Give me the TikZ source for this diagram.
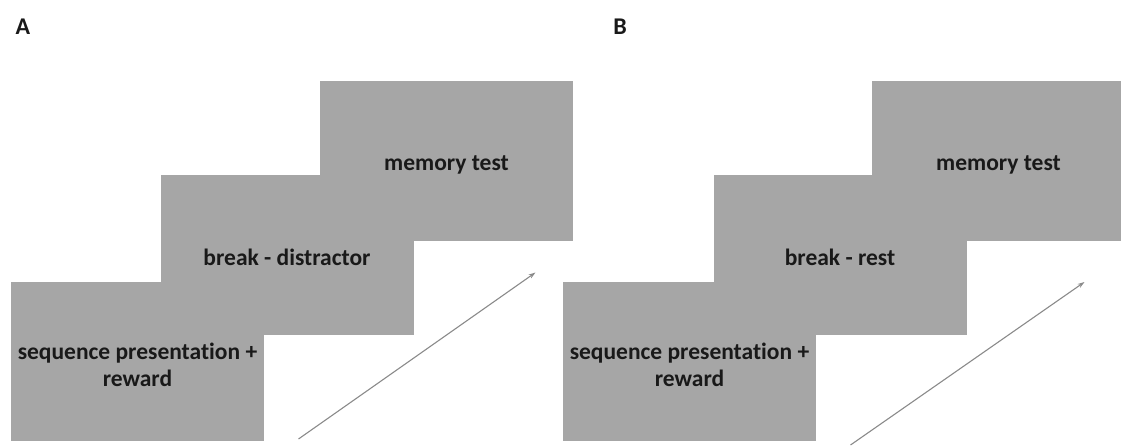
\documentclass[tikz,border=0pt]{standalone}
\usepackage{fontspec}
\setmainfont[Ligatures=NoCommon]{Carlito}
\usetikzlibrary{arrows.meta}
\definecolor{boxgray}{HTML}{A6A6A6}
\definecolor{arrgray}{HTML}{8A8A8A}
\tikzset{
  screen/.style={fill=boxgray, draw=none, minimum width=253pt, minimum height=159pt,
    inner sep=0pt},
  screentext/.style={inner sep=0pt, align=center, font=\fontsize{23.5}{27}\selectfont\bfseries, text=black!90},
  panel/.style={font=\fontsize{24}{28}\selectfont\bfseries, inner sep=0pt, text=black!90},
  timearrow/.style={draw=arrgray, line width=1.1pt, -{Stealth[length=7pt,width=4.5pt]}}
}
\begin{document}
\begin{tikzpicture}[x=1pt,y=1pt]
\useasboundingbox (0,0) rectangle (1121,445);
% Panel A
\node[panel] (labA) at (23,418) {A};
\node[screen] (memA) at (446.5,284) {};
\node[screen] (brkA) at (287,190) {};
\node[screen] (seqA) at (137.5,84) {};
\node[screentext] (memAt) at ([yshift=-4pt]memA.center) {memory test};
\node[screentext] (brkAt) at ([yshift=-2pt]brkA.center) {break - distractor};
\node[screentext] (seqAt) at ([yshift=-4pt]seqA.center) {sequence presentation +\\reward};
\coordinate (arrA0) at (298.5,6);
\coordinate (arrA1) at (535.5,172.5);
\draw[timearrow] (arrA0) -- (arrA1);
% Panel B
\node[panel] (labB) at (620,418) {B};
\node[screen] (memB) at (998.5,284) {};
\node[screen] (brkB) at (840,190) {};
\node[screen] (seqB) at (689.5,84) {};
\node[screentext] (memBt) at ([yshift=-4pt]memB.center) {memory test};
\node[screentext] (brkBt) at ([yshift=-2pt]brkB.center) {break - rest};
\node[screentext] (seqBt) at ([yshift=-4pt]seqB.center) {sequence presentation +\\reward};
\coordinate (arrB0) at (850.5,0);
\coordinate (arrB1) at (1084.5,163);
\draw[timearrow] (arrB0) -- (arrB1);
\end{tikzpicture}
\end{document}
